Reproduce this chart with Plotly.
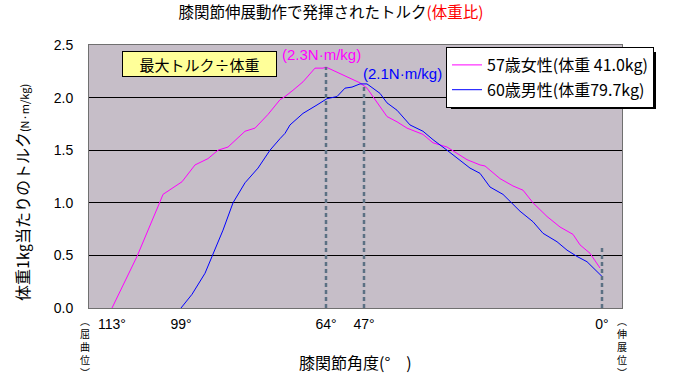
import plotly.graph_objects as go

# ---- data (x = motion frame index, y = torque per body weight N·m/kg) ----
female_frame = [23, 48, 71, 74, 93, 106, 119, 129, 139, 156, 166, 179, 191, 196, 204, 214, 226, 234, 237,
                251, 263, 271, 278, 288, 298, 308, 318, 334, 344, 358, 368, 378, 391, 396, 411, 424, 434,
                444, 458, 471, 484, 491, 501, 511]
female_val = [0.00, 0.49, 1.01, 1.08, 1.20, 1.36, 1.42, 1.50, 1.53, 1.68, 1.71, 1.84, 1.98, 2.01, 2.07, 2.15,
              2.28, 2.28, 2.29, 2.23, 2.18, 2.14, 2.09, 1.96, 1.82, 1.77, 1.71, 1.65, 1.57, 1.53, 1.47, 1.41,
              1.36, 1.35, 1.23, 1.16, 1.12, 1.00, 0.87, 0.77, 0.70, 0.60, 0.52, 0.38]

male_frame = [92, 103, 116, 124, 134, 144, 156, 169, 181, 191, 196, 201, 214, 228, 238, 248, 256, 263, 271,
              275, 278, 291, 298, 308, 321, 334, 344, 358, 371, 381, 391, 401, 414, 423, 431, 444, 454, 468,
              478, 488, 498, 513]
male_val = [0.00, 0.13, 0.33, 0.51, 0.74, 1.00, 1.19, 1.33, 1.50, 1.61, 1.66, 1.74, 1.85, 1.93, 1.99, 2.01,
            2.09, 2.10, 2.13, 2.13, 2.13, 2.04, 1.95, 1.88, 1.74, 1.68, 1.60, 1.50, 1.40, 1.33, 1.28, 1.15,
            1.08, 1.00, 0.92, 0.82, 0.71, 0.63, 0.55, 0.49, 0.44, 0.30]

angle_tick_frame = [23, 92, 237, 275, 513]
angle_tick_text = ["113°", "99°", "64°", "47°", "0°"]
end_marker_top = 0.57

series_names = ["57歳女性(体重 41.0kg)", "60歳男性(体重79.7kg)"]
peak_labels = ["(2.3N·m/kg)", "(2.1N·m/kg)"]
flexed_label = ["︵", "屈", "曲", "位", "︶"]
extended_label = ["︵", "伸", "展", "位", "︶"]

FONT = "Noto Sans CJK JP"
NUM = "Liberation Sans"

W, H = 681, 388
L, R, T, B = 89, 622, 45, 308


def px(xp):
    return (xp - L) / (R - L)


def py(yp):
    return (B - yp) / (B - T)


fig = go.Figure()
fig.add_trace(go.Scatter(x=female_frame, y=female_val, mode="lines", name=series_names[0],
                         line=dict(color="#FF00FF", width=1), legendgroup="a"))
fig.add_trace(go.Scatter(x=male_frame, y=male_val, mode="lines", name=series_names[1],
                         line=dict(color="#0000FF", width=1), legendgroup="b"))

dash_col = "#5B7083"
f_peak = max(female_val)
m_peak = max(male_val)
for xv, top in [(angle_tick_frame[2], f_peak), (angle_tick_frame[3], m_peak), (angle_tick_frame[4], end_marker_top)]:
    fig.add_shape(type="line", x0=xv, x1=xv, y0=0, y1=top, xref="x", yref="y",
                  line=dict(color=dash_col, width=2.5, dash="4px,3px"), layer="above")

# legend shadow
fig.add_shape(type="rect", xref="paper", yref="paper", x0=px(451), x1=px(656), y0=py(109), y1=py(52),
              fillcolor="black", line=dict(width=0), layer="above")

common = dict(showarrow=False, xanchor="center", yanchor="middle")
annotations = [
    dict(x=female_frame[female_val.index(f_peak)] - 5, y=2.41, text=peak_labels[0],
         font=dict(family=NUM, size=15, color="#FF00FF"), **common),
    dict(x=313, y=2.23, text=peak_labels[1],
         font=dict(family=NUM, size=15, color="#0000FF"), **common),
    dict(xref="paper", yref="paper", x=px(199.5), y=py(64), text="最大トルク÷体重",
         font=dict(family=FONT, size=15, color="black"), bgcolor="#FFFF99", bordercolor="black",
         borderwidth=1, width=151, height=22, **common),
    dict(xref="paper", yref="paper", x=px(22), y=py(193), textangle=-90,
         text="体重1㎏当たりのトルク<span style='font-size:11px'>(N·m/kg)</span>",
         font=dict(family=FONT, size=16, color="black"), **common),
    dict(xref="paper", yref="paper", x=px(355), y=py(362),
         text="膝関節角度(°　)", font=dict(family=FONT, size=16, color="black"), **common),
    dict(xref="paper", yref="paper", x=px(85), y=py(346),
         text="<br>".join(flexed_label), font=dict(family=FONT, size=10, color="black"), **common),
    dict(xref="paper", yref="paper", x=px(622), y=py(346),
         text="<br>".join(extended_label), font=dict(family=FONT, size=10, color="black"), **common),
]

fig.update_layout(
    width=W, height=H,
    margin=dict(l=L, r=W - R, t=T, b=H - B, autoexpand=False),
    paper_bgcolor="white",
    plot_bgcolor="#C6BEC8",
    title=dict(text="膝関節伸展動作で発揮されたトルク<span style='color:red'>(体重比)</span>",
               x=331 / W, xanchor="center", y=1 - 13 / H, yanchor="middle",
               font=dict(family=FONT, size=15.5, color="black")),
    showlegend=True,
    legend=dict(x=px(446), y=py(47), xanchor="left", yanchor="top", bgcolor="white",
                bordercolor="black", borderwidth=1, font=dict(family=FONT, size=16, color="black"),
                tracegroupgap=1, traceorder="grouped", itemwidth=30),
    annotations=annotations,
)
fig.update_xaxes(range=[0, R - L], tickvals=angle_tick_frame, ticktext=angle_tick_text,
                 showgrid=False, zeroline=False, showline=True, linecolor="#707070", mirror=True,
                 ticks="", ticklabelstandoff=3, tickfont=dict(family=NUM, size=14, color="black"))
fig.update_yaxes(range=[0, 2.5], dtick=0.5, tickformat=".1f", showgrid=True, gridcolor="black",
                 gridwidth=1, zeroline=False, showline=True, linecolor="#707070", mirror=True,
                 ticks="", ticklabelstandoff=12, tickfont=dict(family=NUM, size=14, color="black"))

fig.write_html("out.html", config={"displayModeBar": False},
               post_script="document.body.style.margin='0';")
